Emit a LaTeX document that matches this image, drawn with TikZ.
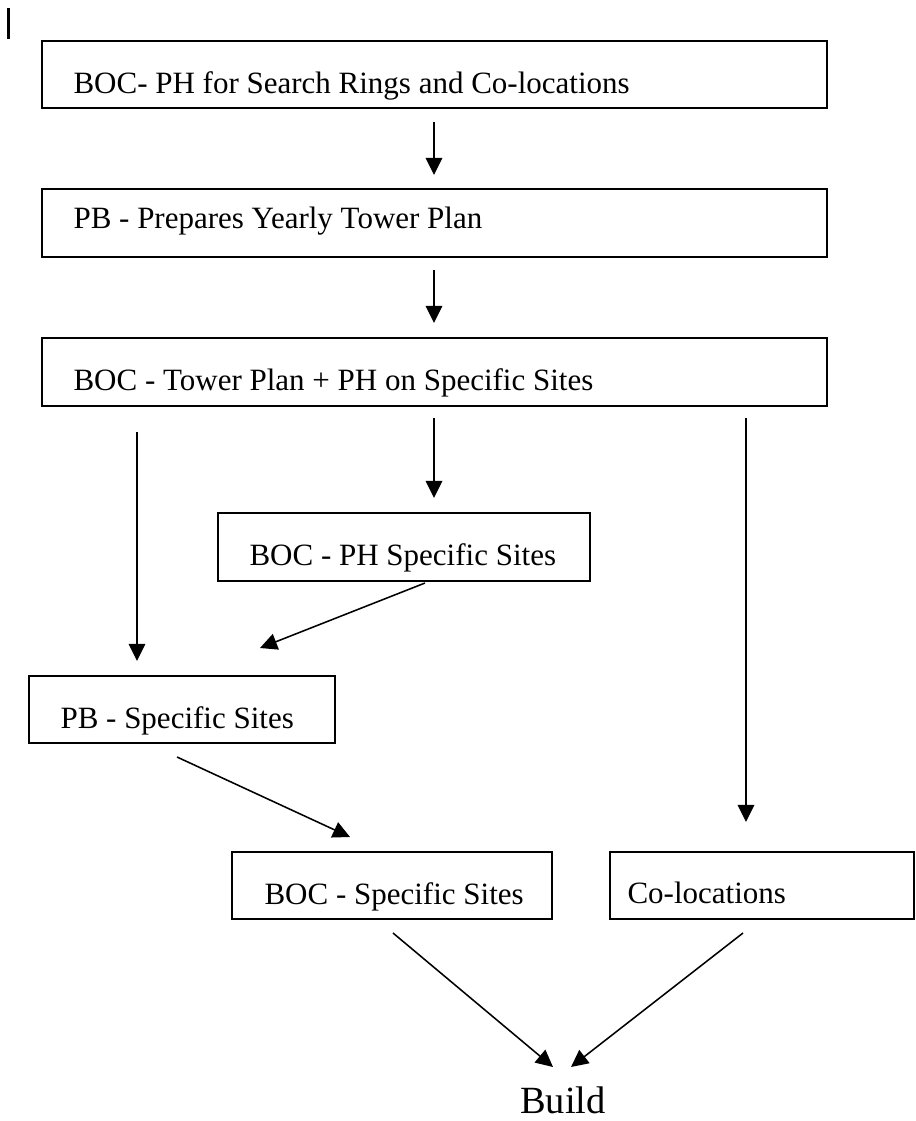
\documentclass[tikz,border=0pt]{standalone}
\usepackage{fontspec}
\setmainfont{Liberation Serif}
\usetikzlibrary{arrows.meta}
\newcommand\pxlen{0.3871pt}

\begin{document}
\begin{tikzpicture}[x=0.3871pt,y=-0.3871pt,
    box/.style={draw=black,line width=0.75pt,rectangle,inner sep=0pt},
    label/.style={anchor=base west,inner sep=0pt,font=\fontsize{12}{14}\selectfont},
    flow/.style={draw=black,line width=0.6pt,-{Triangle[length=6.6pt,width=6.4pt]}}]
    \useasboundingbox (0,0) rectangle (916,1121);

    % cursor mark at the top left
    \draw[line width=0.8pt] (8.5,8) -- (8.5,39);

    % top three boxes, full width
    \node[box,minimum width=785*\pxlen,minimum height=67*\pxlen] (boc1) at (434.5,74.5) {};
    \node[label] (boc1txt) at (73,93) {BOC- PH for Search Rings and Co-locations};

    \node[box,minimum width=785*\pxlen,minimum height=68*\pxlen] (pbplan) at (434.5,223) {};
    \node[label] (pbplantxt) at (73,228) {PB - Prepares Yearly Tower Plan};

    \node[box,minimum width=785*\pxlen,minimum height=68*\pxlen] (bocplan) at (434.5,372) {};
    \node[label] (bocplantxt) at (73,390) {BOC - Tower Plan + PH on Specific Sites};

    % middle boxes
    \node[box,minimum width=372*\pxlen,minimum height=68*\pxlen] (bocph) at (404,547) {};
    \node[label] (bocphtxt) at (249,565) {BOC - PH Specific Sites};

    \node[box,minimum width=306*\pxlen,minimum height=67*\pxlen] (pbsites) at (182,709.5) {};
    \node[label] (pbsitestxt) at (60,728) {PB - Specific Sites};

    % bottom boxes
    \node[box,minimum width=320*\pxlen,minimum height=67*\pxlen] (bocsites) at (392,885.5) {};
    \node[label] (bocsitestxt) at (264,904) {BOC - Specific Sites};

    \node[box,minimum width=304*\pxlen,minimum height=67*\pxlen] (colocs) at (762,885.5) {};
    \node[label] (colocstxt) at (627,903) {Co-locations};

    \node[anchor=base,inner sep=0pt,font=\fontsize{14.9}{18}\selectfont] (build) at (563,1113) {Build};

    % arrow ends (arrows do not touch the boxes)
    \coordinate (a1s) at (434,122);  \coordinate (a1e) at (434,175);
    \coordinate (a2s) at (434,270);  \coordinate (a2e) at (434,323);
    \coordinate (aLs) at (137,432);  \coordinate (aLe) at (137,661);
    \coordinate (aMs) at (434,418);  \coordinate (aMe) at (434,498);
    \coordinate (aRs) at (746,418);  \coordinate (aRe) at (746,822);
    \coordinate (d1s) at (425,583);  \coordinate (d1e) at (260,648);
    \coordinate (d2s) at (177,757);  \coordinate (d2e) at (350,837);
    \coordinate (b1s) at (393,933);  \coordinate (b1e) at (553,1067);
    \coordinate (b2s) at (743,933);  \coordinate (b2e) at (571,1067);

    % connectors
    \draw[flow] (a1s) -- (a1e);
    \draw[flow] (a2s) -- (a2e);
    \draw[flow] (aLs) -- (aLe);
    \draw[flow] (aMs) -- (aMe);
    \draw[flow] (aRs) -- (aRe);
    \draw[flow] (d1s) -- (d1e);
    \draw[flow] (d2s) -- (d2e);
    \draw[flow] (b1s) -- (b1e);
    \draw[flow] (b2s) -- (b2e);
\end{tikzpicture}
\end{document}
